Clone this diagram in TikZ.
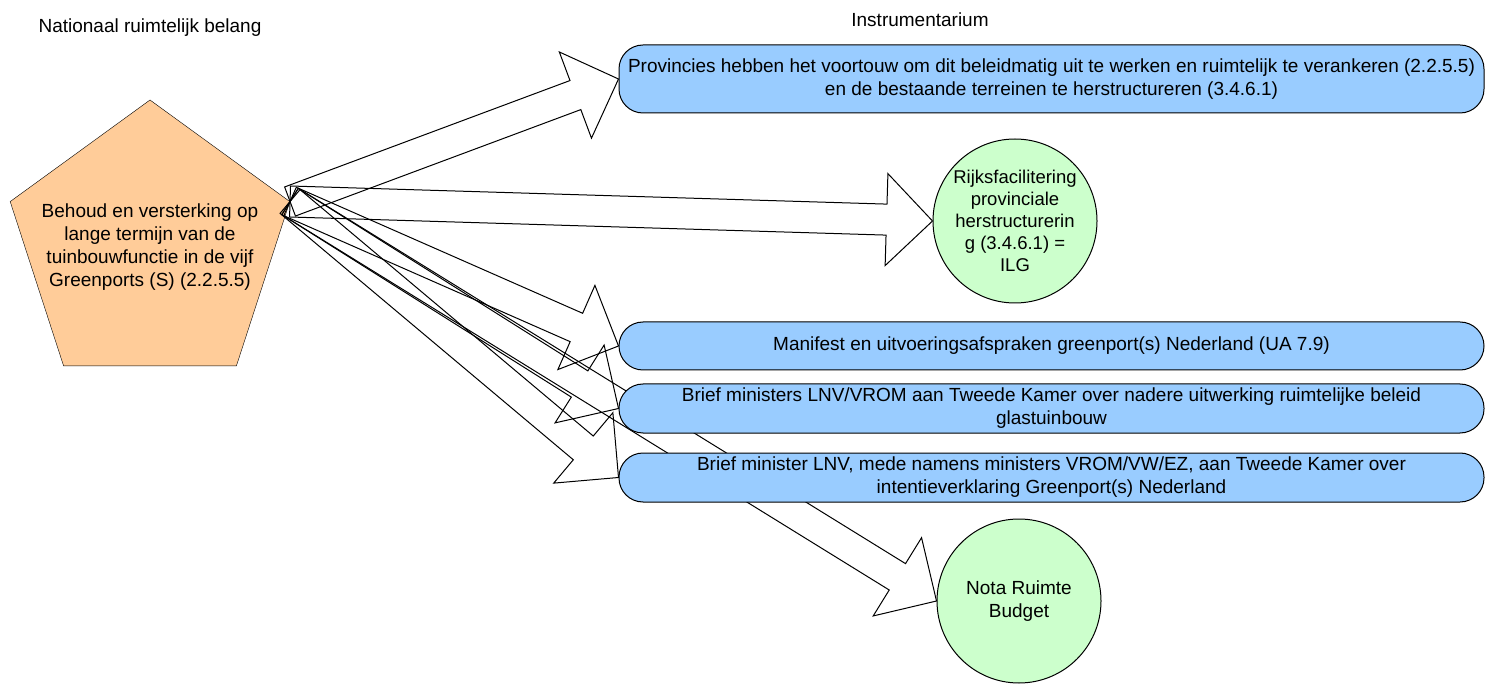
\documentclass[tikz,border=0pt]{standalone}
\usepackage{fontspec}
\setmainfont{Liberation Sans}
\usetikzlibrary{calc,shapes.geometric,backgrounds}

\definecolor{pentorange}{HTML}{FFCC99}
\definecolor{boxblue}{HTML}{99CCFF}
\definecolor{circgreen}{HTML}{CCFFCC}

\tikzset{
    pentagon/.style={regular polygon, regular polygon sides=5, minimum size=294pt,
        inner sep=0pt, draw, fill=pentorange},
    pentext/.style={align=center, font=\fontsize{19}{23}\selectfont},
    infobox/.style={draw, fill=boxblue, rounded corners=24pt, minimum width=865pt,
        inner sep=0pt, align=center, font=\fontsize{19}{23}\selectfont},
    budget/.style={circle, draw, fill=circgreen, minimum size=164pt, inner sep=0pt,
        align=center, font=\fontsize{19}{23}\selectfont},
    heading/.style={font=\fontsize{19}{22}\selectfont},
    arrowline/.style={draw=black, line width=1pt, line join=miter}
}

% hollow block arrow from #1 (tail) to #2 (tip)
\newcommand{\blockarrow}[2]{%
    \coordinate (head) at ($(#2)!46pt!(#1)$);
    \draw[arrowline] ($(#1)!15.5pt!90:(#2)$) -- ($(head)!15.5pt!90:(#2)$)
        -- ($(head)!46pt!90:(#2)$) -- (#2) -- ($(head)!46pt!-90:(#2)$)
        -- ($(head)!15.5pt!-90:(#2)$) -- ($(#1)!15.5pt!-90:(#2)$) -- cycle;
}

\begin{document}
\begin{tikzpicture}[x=1pt, y=-1pt, line width=1pt]
    \useasboundingbox (0,0) rectangle (1486,684);

    % column headings
    \node[heading] (left title) at (150,28) {Nationaal ruimtelijk belang};
    \node[heading] (right title) at (920,20) {Instrumentarium};

    % instruments
    \node[infobox, minimum height=68pt] (prov) at (1051.5,79)
        {Provincies hebben het voortouw om dit beleidmatig uit te werken en ruimtelijk te verankeren (2.2.5.5)\\
         en de bestaande terreinen te herstructureren (3.4.6.1)};
    \node[budget, font=\fontsize{18.5}{22}\selectfont] (rijks) at (1015,221)
        {Rijksfacilitering\\provinciale\\herstructurerin\\g (3.4.6.1) =\\ILG};
    \node[infobox, minimum height=48pt] (manifest) at (1051.5,346)
        {Manifest en uitvoeringsafspraken greenport(s) Nederland (UA 7.9)};
    \node[infobox, minimum height=49pt] (brief1) at (1051.5,408.5)
        {Brief ministers LNV/VROM aan Tweede Kamer over nadere uitwerking ruimtelijke beleid\\
         glastuinbouw};
    \node[infobox, minimum height=49pt] (brief2) at (1051.5,477.5)
        {Brief minister LNV, mede namens ministers VROM/VW/EZ, aan Tweede Kamer over\\
         intentieverklaring Greenport(s) Nederland};
    \node[budget] (nota) at (1019,601) {Nota Ruimte\\Budget};

    \begin{scope}[on background layer]
        % national interest
        \node[pentagon] (belang) at (150,247) {};
        \node[pentext] (belang text) at (belang.center)
            {Behoud en versterking op\\lange termijn van de\\tuinbouwfunctie in de vijf\\Greenports (S) (2.2.5.5)};

        % arrows to the instruments
        \blockarrow{belang.corner 5}{prov.west}
        \blockarrow{belang.corner 5}{rijks.west}
        \blockarrow{belang.corner 5}{manifest.west}
        \blockarrow{belang.corner 5}{brief1.west}
        \blockarrow{belang.corner 5}{brief2.west}
        \blockarrow{belang.corner 5}{nota.west}
    \end{scope}
\end{tikzpicture}
\end{document}
